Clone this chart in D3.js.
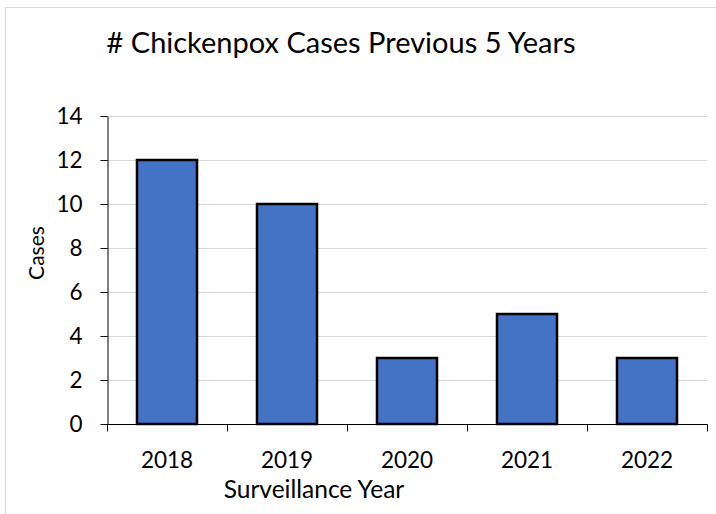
<!DOCTYPE html>
<html>
<head>
<meta charset="utf-8">
<script src="https://cdn.jsdelivr.net/npm/d3@7"></script>
<style>
  html, body { margin: 0; padding: 0; background: #fff; }
  svg { display: block; font-family: Lato, "Open Sans", sans-serif; }
</style>
</head>
<body>
<svg id="chart" width="716" height="514"></svg>
<script>
const years = ["2018", "2019", "2020", "2021", "2022"];
const cases = [12, 10, 3, 5, 3];
const yTicks = [0, 2, 4, 6, 8, 10, 12, 14];

const svg = d3.select("#chart");
const W = 716, H = 514;
const plot = { left: 107, right: 707, top: 116, bottom: 424 };

// chart frame
svg.append("rect")
  .attr("x", 5.5).attr("y", 7.5)
  .attr("width", W + 10).attr("height", H + 10)
  .attr("fill", "#fff").attr("stroke", "#d9d9d9").attr("stroke-width", 1);

const x = d3.scaleBand().domain(years).range([plot.left, plot.right]).paddingInner(0.5).paddingOuter(0.25);
const y = d3.scaleLinear().domain([0, 14]).range([plot.bottom, plot.top]);

// horizontal gridlines
svg.append("g").selectAll("line")
  .data(yTicks.filter(d => d > 0))
  .join("line")
  .attr("x1", plot.left).attr("x2", plot.right)
  .attr("y1", d => Math.round(y(d)) + 0.5).attr("y2", d => Math.round(y(d)) + 0.5)
  .attr("stroke", "#d9d9d9").attr("stroke-width", 1);

// bars
svg.append("g").selectAll("rect")
  .data(years.map((yr, i) => ({ yr, v: cases[i] })))
  .join("rect")
  .attr("x", d => x(d.yr))
  .attr("y", d => y(d.v))
  .attr("width", x.bandwidth())
  .attr("height", d => y(0) - y(d.v))
  .attr("fill", "#4472C4")
  .attr("stroke", "#000").attr("stroke-width", 2.5);

// y axis
const yAxis = svg.append("g")
  .attr("transform", `translate(${plot.left + 0.5},0)`)
  .call(d3.axisLeft(y).tickValues(yTicks).tickSize(7).tickPadding(18).tickSizeOuter(0));
yAxis.select(".domain").attr("stroke", "#000");
yAxis.selectAll(".tick line").attr("stroke", "#000");
yAxis.selectAll("text").attr("font-size", 22.5).attr("fill", "#000")
  .attr("font-family", "Lato, 'Open Sans', sans-serif");

// x axis with boundary ticks between categories
const xAxis = svg.append("g").attr("transform", `translate(0,${plot.bottom + 0.5})`);
xAxis.append("line")
  .attr("x1", plot.left).attr("x2", plot.right + 0.5)
  .attr("stroke", "#000");
const step = x.step();
const bounds = d3.range(years.length + 1).map(i => plot.left + i * step);
xAxis.selectAll("line.tk")
  .data(bounds).join("line").attr("class", "tk")
  .attr("x1", d => Math.round(d) + 0.5).attr("x2", d => Math.round(d) + 0.5)
  .attr("y1", 0).attr("y2", 7)
  .attr("stroke", "#000");
xAxis.selectAll("text")
  .data(years).join("text")
  .attr("x", d => x(d) + x.bandwidth() / 2)
  .attr("y", 467 - plot.bottom)
  .attr("text-anchor", "middle")
  .attr("font-size", 22.5).attr("fill", "#000")
  .text(d => d);

// axis titles
svg.append("text")
  .attr("x", 314).attr("y", 498)
  .attr("text-anchor", "middle").attr("font-size", 24.5).attr("fill", "#000")
  .text("Surveillance Year");
svg.append("text")
  .attr("transform", "translate(44,253) rotate(-90)")
  .attr("text-anchor", "middle").attr("font-size", 21).attr("fill", "#000")
  .text("Cases");

// chart title
svg.append("text")
  .attr("x", 341).attr("y", 53)
  .attr("text-anchor", "middle").attr("font-size", 29).attr("fill", "#000")
  .text("# Chickenpox Cases Previous 5 Years");
</script>
</body>
</html>
